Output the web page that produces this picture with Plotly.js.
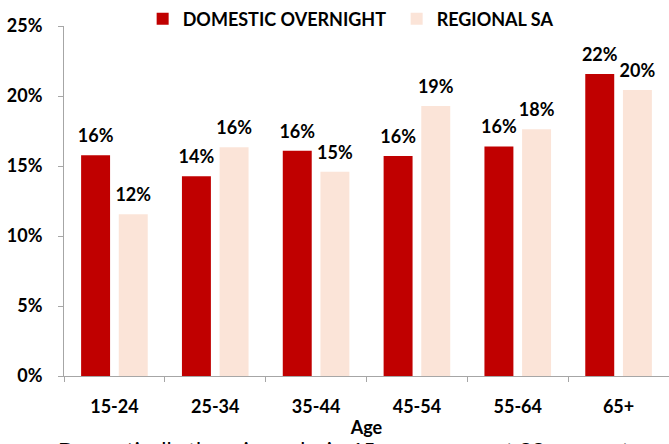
<!DOCTYPE html>
<html>
<head>
<meta charset="utf-8">
<script src="https://cdn.plot.ly/plotly-3.0.1.min.js"></script>
<style>html,body{margin:0;padding:0;background:#fff;}#chart{width:669px;height:444px;}</style>
</head>
<body>
<div id="chart"></div>
<script>
const categories = ["15-24", "25-34", "35-44", "45-54", "55-64", "65+"];
const domesticOvernight = [15.76, 14.26, 16.09, 15.71, 16.40, 21.57];
const regionalSA = [11.55, 16.34, 14.59, 19.29, 17.62, 20.43];
const seriesNames = ["DOMESTIC OVERNIGHT", "REGIONAL SA"];
const yTickVals = [0, 5, 10, 15, 20, 25];
const yTickText = ["0%", "5%", "10%", "15%", "20%", "25%"];
const xTitle = "Age";
const caption = "Domestically the mix peaks in 65+ age group at 22 per cent";

const FONT = "Lato, 'Open Sans', sans-serif";
const labelFont = {family: FONT, size: 18, color: "#000", weight: "bold"};

function barTrace(name, values, color) {
  return {
    type: "bar", name: name, x: categories, y: values,
    marker: {color: color}, hoverinfo: "skip", offsetgroup: name
  };
}
function labelTrace(name, values) {
  return {
    type: "scatter", mode: "markers+text", x: categories, y: values,
    text: values.map(v => Math.round(v) + "%"),
    textposition: "top center", textfont: labelFont,
    marker: {size: 12, opacity: 0, color: "#fff"},
    showlegend: false, hoverinfo: "skip", cliponaxis: false, offsetgroup: name
  };
}

const traces = [
  barTrace(seriesNames[0], domesticOvernight, "#C00000"),
  barTrace(seriesNames[1], regionalSA, "#FBE4D8"),
  labelTrace(seriesNames[0], domesticOvernight),
  labelTrace(seriesNames[1], regionalSA)
];

const layout = {
  width: 669, height: 444,
  margin: {l: 64, r: 0, t: 26, b: 68, pad: 0},
  paper_bgcolor: "#fff", plot_bgcolor: "#fff",
  barmode: "group", bargap: 0.253, bargroupgap: 0.231,
  scattermode: "group", scattergap: 0.253,
  font: {family: FONT, size: 18, color: "#000"},
  showlegend: true,
  legend: {
    orientation: "h", x: 0.13, xanchor: "left", y: 1.02, yanchor: "middle",
    font: {family: FONT, size: 18, color: "#000", weight: "bold"},
    entrywidth: 209, entrywidthmode: "pixels",
    traceorder: "normal", itemclick: false, itemdoubleclick: false,
    bgcolor: "rgba(0,0,0,0)"
  },
  xaxis: {
    type: "category", showgrid: false, zeroline: false,
    showline: true, linecolor: "#A6A6A6", linewidth: 1,
    ticks: "outside", tickson: "boundaries", ticklen: 5, tickcolor: "#A6A6A6",
    tickfont: labelFont, ticklabelstandoff: 14,
    title: {text: xTitle, font: {family: FONT, size: 18, color: "#000", weight: "bold"}, standoff: 5}
  },
  yaxis: {
    range: [0, 25], tickvals: yTickVals, ticktext: yTickText,
    showgrid: false, zeroline: false,
    showline: true, linecolor: "#A6A6A6", linewidth: 1,
    ticks: "outside", ticklen: 5, tickcolor: "#A6A6A6",
    tickfont: labelFont, ticklabelstandoff: 12
  },
  annotations: [
    {text: caption, xref: "paper", yref: "paper", x: -0.013, xanchor: "left",
     y: -0.165, yanchor: "top", showarrow: false,
     font: {family: FONT, size: 22, color: "#000"}}
  ]
};

Plotly.newPlot("chart", traces, layout, {staticPlot: true, displayModeBar: false});
</script>
</body>
</html>
